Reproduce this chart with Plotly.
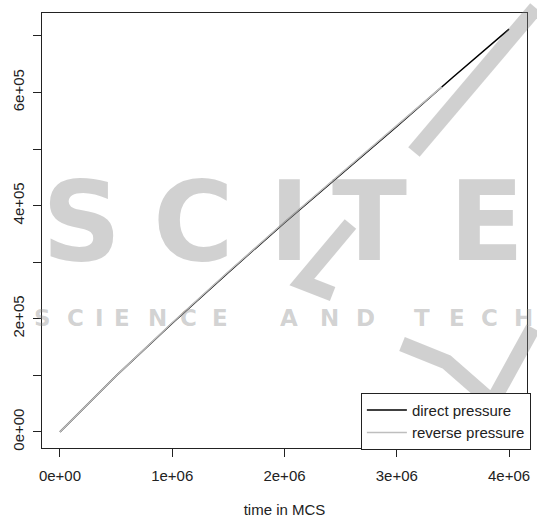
import plotly.graph_objects as go

# Simulation time (Monte Carlo steps) and accumulated pressure
time_direct = [0, 0.5e6, 1.0e6, 1.5e6, 2.0e6, 2.5e6, 3.0e6, 3.5e6, 4.0e6]
pressure_direct = [0, 0.99e5, 1.92e5, 2.82e5, 3.70e5, 4.55e5, 5.40e5, 6.27e5, 7.12e5]

time_reverse = [0, 0.5e6, 1.0e6, 1.5e6, 2.0e6, 2.5e6, 3.0e6, 3.4e6]
pressure_reverse = [0, 0.99e5, 1.93e5, 2.83e5, 3.71e5, 4.56e5, 5.41e5, 6.10e5]

x_tick_vals = [0, 1e6, 2e6, 3e6, 4e6]
x_tick_text = ["0e+00", "1e+06", "2e+06", "3e+06", "4e+06"]
y_tick_vals = [0, 2e5, 4e5, 6e5]
y_tick_text = ["0e+00", "2e+05", "4e+05", "6e+05"]

FONT = "Liberation Sans, Arial, Helvetica, sans-serif"
W, H = 537, 518
ML, MR, MT, MB = 42, 6, 13, 70


def padded(lo, hi, frac=0.04):
    span = hi - lo
    return [lo - frac * span, hi + frac * span]


all_t = time_direct + time_reverse
all_p = pressure_direct + pressure_reverse

fig = go.Figure()
fig.add_trace(go.Scatter(x=time_direct, y=pressure_direct, mode="lines",
                         name="direct pressure",
                         line=dict(color="black", width=1.5)))
fig.add_trace(go.Scatter(x=time_reverse, y=pressure_reverse, mode="lines",
                         name="reverse pressure",
                         line=dict(color="#bebebe", width=1.5)))

axis_common = dict(showgrid=False, zeroline=False, showline=True, mirror=True,
                   linecolor="#222", linewidth=1, ticks="outside", ticklen=8,
                   tickcolor="#222", automargin=False,
                   tickfont=dict(family=FONT, size=15, color="#222"))

fig.update_xaxes(range=padded(min(all_t), max(all_t)), tickvals=x_tick_vals,
                 ticktext=x_tick_text, ticklabelstandoff=6,
                 title=dict(text="time in MCS", font=dict(family=FONT, size=15, color="#222"),
                            standoff=24),
                 **axis_common)
fig.update_yaxes(range=padded(min(all_p), max(all_p)), tickvals=y_tick_vals,
                 ticktext=y_tick_text, tickangle=-90, ticklabelstandoff=3,
                 minor=dict(dtick=1e5, ticks="outside", ticklen=8, tickcolor="#222"),
                 **axis_common)


# Publisher watermark overlay (pixel positions converted to paper units)
def px(x):
    return (x - ML) / (W - ML - MR)


def py(y):
    return (H - MB - y) / (H - MT - MB)


WM = "rgba(128,128,128,0.36)"
annotations = []
for ch, cx in zip("SCITE", [82, 195, 292, 372, 490]):
    annotations.append(dict(text=ch, x=px(cx), y=py(222), xref="paper", yref="paper",
                            xanchor="center", yanchor="middle", showarrow=False,
                            font=dict(family="DejaVu Sans", size=110, color=WM,
                                      weight="bold")))
for ch, cx in zip("SCIENCEANDTECH",
                  [42, 76, 100, 123, 158, 190, 221, 291, 332, 368, 425, 460, 493, 527]):
    annotations.append(dict(text=ch, x=px(cx), y=py(318), xref="paper", yref="paper",
                            xanchor="center", yanchor="middle", showarrow=False,
                            font=dict(family="DejaVu Sans", size=23, color=WM,
                                      weight="bold")))


def path(points):
    return "M " + " L ".join(f"{px(a)},{py(b)}" for a, b in points)


wm_line = dict(color="#808080", width=15)
shapes = [
    dict(type="path", path=path([(540, 8), (417, 152)]), xref="paper", yref="paper",
         line=wm_line, opacity=0.36, layer="above"),
    dict(type="path", path=path([(353, 224), (304, 282), (335, 294)]), xref="paper",
         yref="paper", line=wm_line, opacity=0.36, layer="above"),
    dict(type="path", path=path([(405, 344), (450, 362), (496, 402), (537, 328)]),
         xref="paper", yref="paper", line=wm_line, opacity=0.36, layer="above"),
]

fig.update_layout(
    width=W, height=H,
    margin=dict(l=ML, r=MR, t=MT, b=MB),
    paper_bgcolor="white", plot_bgcolor="white",
    font=dict(family=FONT, size=15, color="#222"),
    legend=dict(x=1.008, y=-0.004, xanchor="right", yanchor="bottom",
                bgcolor="white", bordercolor="#222", borderwidth=1,
                font=dict(family=FONT, size=15, color="#222"),
                itemwidth=40, tracegroupgap=0),
    annotations=annotations,
    shapes=shapes,
)

fig.write_html("out.html")
